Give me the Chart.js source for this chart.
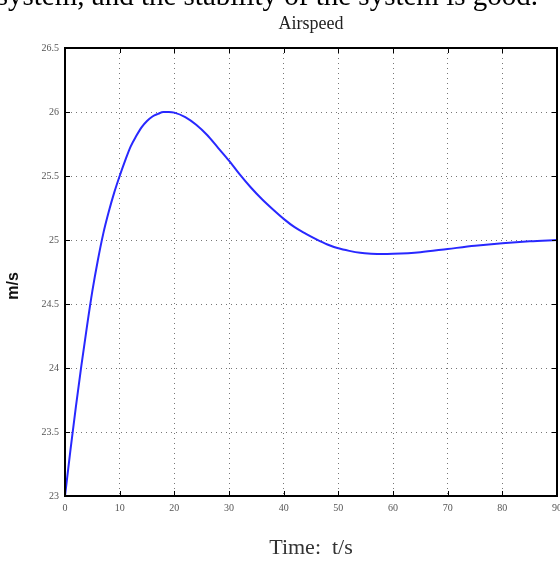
<!DOCTYPE html>
<html>
<head>
<meta charset="utf-8">
<script src="https://cdn.jsdelivr.net/npm/chart.js@4.4.0/dist/chart.umd.min.js"></script>
<style>
  html, body { margin: 0; padding: 0; background: #fff; overflow: hidden; }
  #grafico { display: block; }
</style>
</head>
<body>
<canvas id="grafico" width="560" height="563"></canvas>
<script>
// datos (tiempo en s, velocidad en m/s)
const tiempos = [0, 1, 2, 3, 4, 5, 6, 7, 8, 9, 10, 11, 12, 13, 14, 15, 16, 17, 18, 19, 20,
  22, 24, 26, 28, 30, 32, 34, 36, 38, 40, 42, 44, 46, 48, 50, 52, 54, 56, 58, 60,
  65, 70, 75, 80, 85, 90];
const velocidad = [23.0, 23.36, 23.7, 24.02, 24.32, 24.6, 24.84, 25.05, 25.22, 25.37, 25.5,
  25.62, 25.73, 25.81, 25.88, 25.93, 25.965, 25.985, 26.0, 26.0, 25.995,
  25.96, 25.9, 25.82, 25.72, 25.62, 25.51, 25.41, 25.32, 25.24, 25.165,
  25.1, 25.05, 25.005, 24.965, 24.935, 24.915, 24.9, 24.893, 24.89, 24.892,
  24.905, 24.93, 24.955, 24.975, 24.99, 25.0];
const ticksX = [0, 10, 20, 30, 40, 50, 60, 70, 80, 90];
const ticksY = [23, 23.5, 24, 24.5, 25, 25.5, 26, 26.5];

const titulo = 'Airspeed';
const tituloY = 'm/s';
const leyendaArriba = 'system, and the stability of the system is good.';

const puntos = tiempos.map((t, i) => ({ x: t, y: velocidad[i] }));

// textos extra y marco tipo MATLAB
const marco = {
  id: 'marco',
  afterDraw(chart) {
    const c = chart.ctx;
    const a = chart.chartArea;
    const sx = chart.scales.x, sy = chart.scales.y;
    c.save();
    // marcas hacia adentro
    c.strokeStyle = '#000';
    c.lineWidth = 1;
    c.beginPath();
    ticksX.forEach(v => {
      const px = Math.round(sx.getPixelForValue(v)) + 0.5;
      c.moveTo(px, a.bottom); c.lineTo(px, a.bottom - 5);
      c.moveTo(px, a.top); c.lineTo(px, a.top + 5);
    });
    ticksY.forEach(v => {
      const py = Math.round(sy.getPixelForValue(v)) + 0.5;
      c.moveTo(a.left, py); c.lineTo(a.left + 5, py);
      c.moveTo(a.right, py); c.lineTo(a.right - 5, py);
    });
    c.stroke();
    // caja
    c.lineWidth = 2;
    c.strokeRect(a.left, a.top, a.right - a.left, a.bottom - a.top);
    // titulo
    c.fillStyle = '#222';
    c.font = '18px "Liberation Serif", serif';
    c.textAlign = 'center';
    c.textBaseline = 'middle';
    c.fillText(titulo, (a.left + a.right) / 2, 24);
    // etiqueta del eje y
    c.save();
    c.translate(14, 286);
    c.rotate(-Math.PI / 2);
    c.font = 'bold 16px "Liberation Sans", sans-serif';
    c.fillStyle = '#111';
    c.fillText(tituloY, 0, 0);
    c.restore();
    // texto del documento, cortado arriba
    c.fillStyle = '#000';
    c.font = '29px "Liberation Serif", serif';
    c.textAlign = 'right';
    c.textBaseline = 'alphabetic';
    c.fillText(leyendaArriba, 538, 5);
    c.restore();
  }
};

new Chart(document.getElementById('grafico'), {
  type: 'line',
  data: {
    datasets: [{
      data: puntos,
      borderColor: 'rgb(40, 40, 255)',
      borderWidth: 2,
      pointRadius: 0,
      tension: 0.4,
      cubicInterpolationMode: 'monotone',
      fill: false
    }]
  },
  options: {
    responsive: false,
    animation: false,
    devicePixelRatio: 1,
    layout: { padding: { top: 48, right: 3, left: 0, bottom: 0 } },
    plugins: { legend: { display: false }, tooltip: { enabled: false }, title: { display: false } },
    scales: {
      x: {
        type: 'linear',
        min: 0, max: 90,
        afterBuildTicks: s => { s.ticks = ticksX.map(v => ({ value: v })); },
        afterFit: s => { s.height = 67; s.paddingRight = 0; s.paddingLeft = 0; },
        grid: { color: '#777', lineWidth: 1, drawTicks: false },
        border: { display: true, color: '#000', width: 2, dash: [1, 4] },
        ticks: {
          padding: 6,
          color: '#555',
          font: { family: '"Liberation Serif", serif', size: 10 },
          maxRotation: 0,
          callback: v => String(v)
        },
        title: {
          display: true,
          text: 'Time:  t/s',
          color: '#333',
          font: { family: '"Liberation Serif", serif', size: 22 },
          padding: { top: 0, bottom: 2 }
        }
      },
      y: {
        min: 23, max: 26.5,
        afterBuildTicks: s => { s.ticks = ticksY.map(v => ({ value: v })); },
        afterFit: s => { s.width = 65; },
        grid: { color: '#777', lineWidth: 1, drawTicks: false },
        border: { display: true, color: '#000', width: 2, dash: [1, 4] },
        ticks: {
          padding: 6,
          color: '#555',
          font: { family: '"Liberation Serif", serif', size: 10 },
          callback: v => String(v)
        }
      }
    }
  },
  plugins: [marco]
});
</script>
</body>
</html>
